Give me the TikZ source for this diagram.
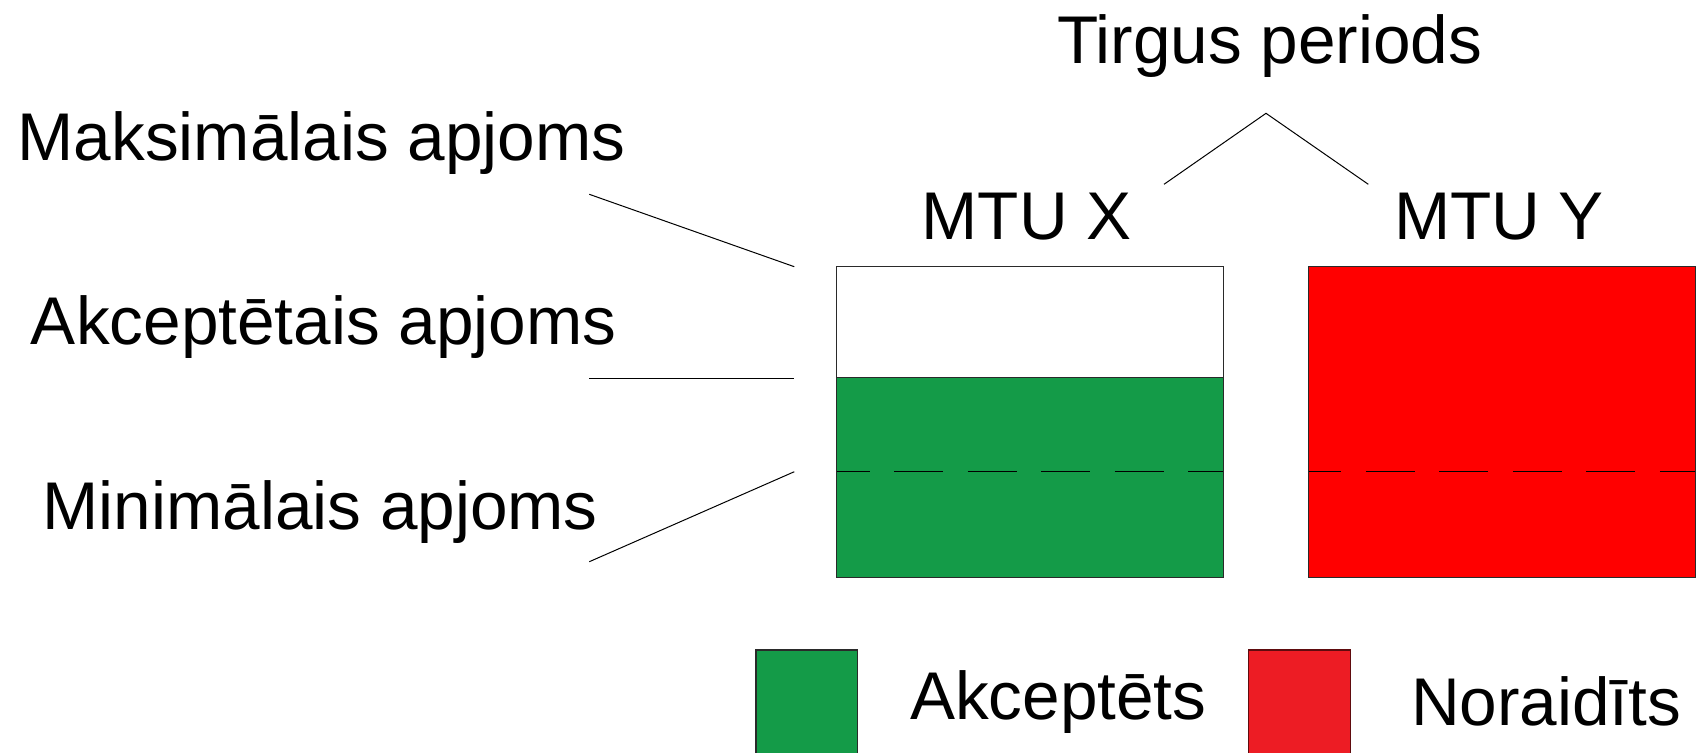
\documentclass[tikz,border=0pt]{standalone}
\usepackage{fontspec}
\setmainfont{Liberation Sans}
\definecolor{accgreen}{HTML}{149B48}
\definecolor{rejred}{HTML}{FF0000}
\definecolor{legred}{HTML}{ED1C24}
\definecolor{edge}{HTML}{2A2A2A}
\begin{document}
\begin{tikzpicture}[x=0.5pt,y=-0.5pt,
  lbl/.style={inner sep=0pt,outer sep=0pt,anchor=base west,font=\fontsize{33.75}{40}\selectfont},
  thinline/.style={draw=black,line width=0.5pt},
  boxedge/.style={draw=edge,line width=0.65pt},
  dashline/.style={draw=black,line width=0.5pt,dash pattern=on 24.5pt off 12.25pt,dash phase=8pt}]
\useasboundingbox (0,0) rectangle (1696,752);
\clip (0,0) rectangle (1696,752);
% texts
\node[lbl] (tirgus) at (1057,63.3) {Tirgus periods};
\node[lbl] (mtux) at (921.7,239.3) {MTU X};
\node[lbl] (mtuy) at (1394,239.3) {MTU Y};
\node[lbl] (maks) at (17.7,160.7) {Maksimālais apjoms};
\node[lbl] (akcap) at (31,344) {Akceptētais apjoms};
\node[lbl] (minap) at (42.7,529) {Minimālais apjoms};
\node[lbl] (legA) at (910,719.3) {Akceptēts};
\node[lbl] (legN) at (1411,725) {Noraidīts};
% MTU X box
\fill[accgreen] (836.7,377.7) rectangle (1223.3,577.3);
\draw[boxedge] (836.7,377.7) -- (1223.3,377.7);
\draw[dashline] (836.7,471) -- (1223.3,471);
\draw[boxedge] (836.7,266.3) rectangle (1223.3,577.3);
% MTU Y box
\fill[rejred] (1308.3,266.3) rectangle (1695.3,577.3);
\draw[dashline] (1308.3,471) -- (1695.3,471);
\draw[boxedge] (1308.3,266.3) rectangle (1695.3,577.3);
% pointer lines
\coordinate (p1a) at (589.3,194.3);
\coordinate (p1b) at (794.3,266.7);
\coordinate (p2a) at (589.3,378.3);
\coordinate (p2b) at (794.3,378.3);
\coordinate (p3a) at (589.3,561.7);
\coordinate (p3b) at (794.3,471.7);
\draw[thinline] (p1a) -- (p1b);
\draw[thinline] (p2a) -- (p2b);
\draw[thinline] (p3a) -- (p3b);
% caret
\coordinate (cl) at (1164,184.3);
\coordinate (cp) at (1266,113.3);
\coordinate (cr) at (1368.3,184.3);
\draw[thinline] (cl) -- (cp) -- (cr);
% legend
\draw[boxedge,fill=accgreen] (756,650) rectangle (857.7,790);
\draw[boxedge,draw=black!60!legred,fill=legred] (1248.3,650) rectangle (1350.3,790);
\end{tikzpicture}
\end{document}
